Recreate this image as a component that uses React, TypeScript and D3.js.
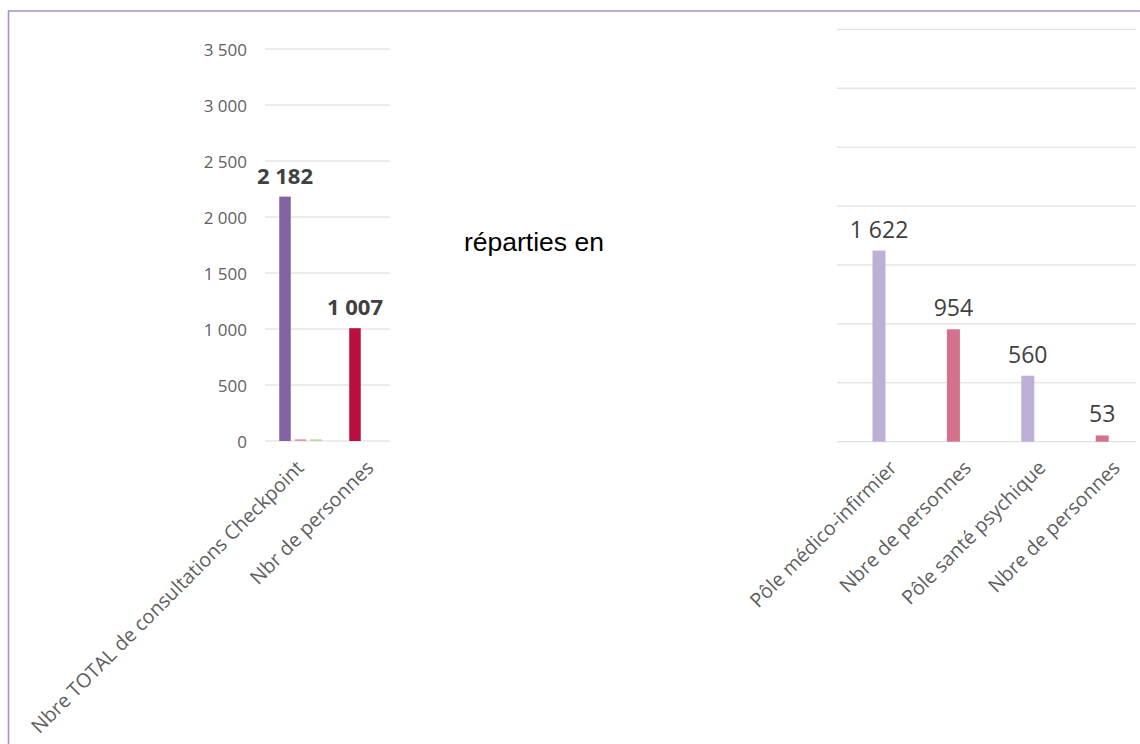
import React from "react";
import * as d3 from "d3";

const leftCategories = ["Nbre TOTAL de consultations Checkpoint", "Nbr de personnes"];
const leftSeriesKeys = ["s0", "s1", "s2"];
// values per series, per category
const leftSeriesValues: Record<string, number[]> = {
  s0: [2182, 1007],
  s1: [15, 0],
  s2: [15, 0],
};
const leftColors: Record<string, string[]> = {
  s0: ["#8064A2", "#B90E3E"],
  s1: ["#E6989A", "#E6989A"],
  s2: ["#C3D69B", "#C3D69B"],
};
const leftLabels = ["2 182", "1 007"];
const yTicks = [0, 500, 1000, 1500, 2000, 2500, 3000, 3500];
const yTickLabels = ["0", "500", "1 000", "1 500", "2 000", "2 500", "3 000", "3 500"];

const rightCategories = ["Pôle médico-infirmier", "Nbre de personnes", "Pôle santé psychique", "Nbre de personnes"];
const rightValues = [1622, 954, 560, 53];
const rightLabels = ["1 622", "954", "560", "53"];
const rightColors = ["#BEAFD4", "#D5718C", "#BEAFD4", "#D5718C"];

const middleText = "réparties en";

const FONT = "'Open Sans', sans-serif";

export default function App() {
  // Left chart scales
  const yL = d3.scaleLinear().domain([0, 3500]).range([441, 49]);
  const xL = d3.scaleBand<string>().domain(leftCategories).range([250, 390]).padding(0);
  const sx = d3.scaleBand<string>().domain(leftSeriesKeys).range([-5.75, 36.75]).paddingInner(0.258);
  const gridL = [265, 390];

  // Right chart scales
  const yR = d3.scaleLinear().domain([0, 3500]).range([441.7, 29.3]);
  const xR = d3.scaleBand<number>().domain(rightCategories.map((_, i) => i)).range([841.8, 1139.4]).padding(0);
  const gridR = [837, 1136];
  const barWR = 13;

  return (
    <svg width={1140} height={744} style={{ position: "absolute", left: 0, top: 0 }}>
      <rect width={1140} height={744} fill="#ffffff" />
      {/* frame */}
      <path d="M8.5,744 L8.5,11 L1140,11" fill="none" stroke="#AB90CC" strokeWidth={1.6} />

      {/* Left chart gridlines */}
      {yTicks.map((t) => (
        <line key={"gl" + t} x1={gridL[0]} x2={gridL[1]} y1={yL(t)} y2={yL(t)} stroke="#D9D9D9" strokeWidth={1} />
      ))}
      {yTicks.map((t, i) => (
        <text key={"tl" + t} x={247} y={yL(t) + 6.5} textAnchor="end" fontFamily={FONT} fontSize={17} fill="#5F5F5F">
          {yTickLabels[i]}
        </text>
      ))}
      {leftCategories.map((c, ci) =>
        leftSeriesKeys.map((s) => {
          const v = leftSeriesValues[s][ci];
          if (!v) return null;
          const cx = (xL(c) as number) + xL.bandwidth() / 2;
          const x = cx + (sx(s) as number);
          return (
            <rect key={c + s} x={x} y={yL(v)} width={sx.bandwidth()} height={yL(0) - yL(v)} fill={leftColors[s][ci]} />
          );
        })
      )}
      {leftCategories.map((c, ci) => {
        const cx = (xL(c) as number) + xL.bandwidth() / 2;
        const v = leftSeriesValues.s0[ci];
        return (
          <text key={"dl" + ci} x={cx} y={yL(v) - 13} textAnchor="middle" fontFamily={FONT} fontSize={22} fontWeight="bold" fill="#404040">
            {leftLabels[ci]}
          </text>
        );
      })}
      {leftCategories.map((c, ci) => {
        const cx = (xL(c) as number) + xL.bandwidth() / 2;
        const px = cx + 20;
        const py = 469;
        return (
          <text key={"cl" + ci} x={px} y={py} transform={`rotate(-45, ${px}, ${py})`} textAnchor="end" fontFamily={FONT} fontSize={19.7} fill="#5F5F5F">
            {c}
          </text>
        );
      })}

      {/* middle text */}
      <text x={464} y={251} fontFamily="'Liberation Sans', Arial, sans-serif" fontSize={26.5} fill="#000000">
        {middleText}
      </text>

      {/* Right chart gridlines */}
      {yTicks.map((t) => (
        <line key={"gr" + t} x1={gridR[0]} x2={gridR[1]} y1={yR(t)} y2={yR(t)} stroke="#D9D9D9" strokeWidth={1} />
      ))}
      {rightValues.map((v, i) => {
        const cx = (xR(i) as number) + xR.bandwidth() / 2;
        return (
          <rect key={"rb" + i} x={cx - barWR / 2} y={yR(v)} width={barWR} height={yR(0) - yR(v)} fill={rightColors[i]} />
        );
      })}
      {rightValues.map((v, i) => {
        const cx = (xR(i) as number) + xR.bandwidth() / 2;
        return (
          <text key={"rl" + i} x={cx} y={yR(v) - 13} textAnchor="middle" fontFamily={FONT} fontSize={23} fill="#404040">
            {rightLabels[i]}
          </text>
        );
      })}
      {rightCategories.map((c, i) => {
        const cx = (xR(i) as number) + xR.bandwidth() / 2;
        const px = cx + 19;
        const py = 469;
        return (
          <text key={"rc" + i} x={px} y={py} transform={`rotate(-45, ${px}, ${py})`} textAnchor="end" fontFamily={FONT} fontSize={19.7} fill="#5F5F5F">
            {c}
          </text>
        );
      })}
    </svg>
  );
}
